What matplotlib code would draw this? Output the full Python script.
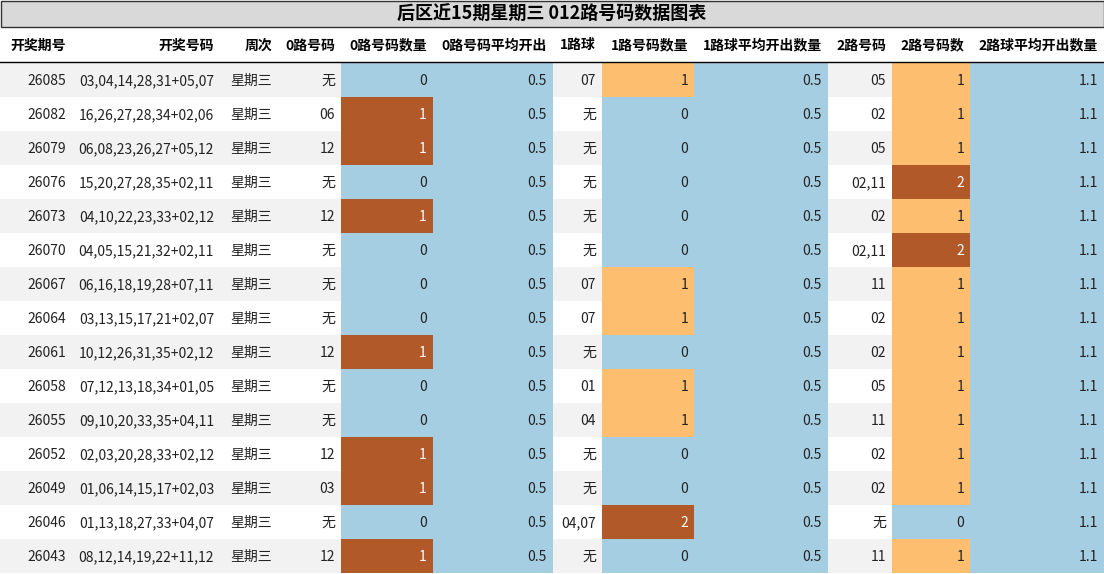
import matplotlib
matplotlib.use("Agg")
import matplotlib.pyplot as plt
from matplotlib.patches import Rectangle

plt.rcParams['font.family'] = ['Noto Sans CJK SC', 'DejaVu Sans']

title = "后区近15期星期三 012路号码数据图表"
headers = ["开奖期号", "开奖号码", "周次", "0路号码", "0路号码数量", "0路号码平均开出",
           "1路球", "1路号码数量", "1路球平均开出数量", "2路号码", "2路号码数", "2路球平均开出数量"]

periods = ["26085", "26082", "26079", "26076", "26073", "26070", "26067", "26064",
           "26061", "26058", "26055", "26052", "26049", "26046", "26043"]
numbers = ["03,04,14,28,31+05,07", "16,26,27,28,34+02,06", "06,08,23,26,27+05,12",
           "15,20,27,28,35+02,11", "04,10,22,23,33+02,12", "04,05,15,21,32+02,11",
           "06,16,18,19,28+07,11", "03,13,15,17,21+02,07", "10,12,26,31,35+02,12",
           "07,12,13,18,34+01,05", "09,10,20,33,35+04,11", "02,03,20,28,33+02,12",
           "01,06,14,15,17+02,03", "01,13,18,27,33+04,07", "08,12,14,19,22+11,12"]
weekday = ["星期三"] * 15
r0 = ["无", "06", "12", "无", "12", "无", "无", "无", "12", "无", "无", "12", "03", "无", "12"]
r0_cnt = [0, 1, 1, 0, 1, 0, 0, 0, 1, 0, 0, 1, 1, 0, 1]
r0_avg = [0.5] * 15
r1 = ["07", "无", "无", "无", "无", "无", "07", "07", "无", "01", "04", "无", "无", "04,07", "无"]
r1_cnt = [1, 0, 0, 0, 0, 0, 1, 1, 0, 1, 1, 0, 0, 2, 0]
r1_avg = [0.5] * 15
r2 = ["05", "02", "05", "02,11", "02", "02,11", "11", "02", "02", "05", "11", "02", "02", "无", "11"]
r2_cnt = [1, 1, 1, 2, 1, 2, 1, 1, 1, 1, 1, 1, 1, 0, 1]
r2_avg = [1.1] * 15

edges = [0, 72, 220, 278, 341, 433, 553, 602, 694, 828, 892, 970, 1104]
W, H = 1104, 574
top_title, head_bot, row_h = 27, 62, 34

blue, orange, brown = "#a6cee3", "#fdbf6f", "#b15928"


def count_color(v, vmax):
    if v == 0:
        return blue
    if v == vmax:
        return brown
    return orange


fig = plt.figure(figsize=(W / 100, H / 100), dpi=100)
ax = fig.add_axes([0, 0, 1, 1])
ax.set_xlim(0, W)
ax.set_ylim(H, 0)
ax.axis("off")

# title bar
ax.add_patch(Rectangle((0.5, 0.5), W - 1, top_title - 1, facecolor="#d9d9d9", edgecolor="#333333", lw=1))
ax.text(W / 2, top_title / 2 + 1, title, ha="center", va="center", fontsize=13, fontweight="bold")

# header
for i, h in enumerate(headers):
    ax.text(edges[i + 1] - 6, (top_title + head_bot) / 2 + 1, h, ha="right", va="center",
            fontsize=10, fontweight="bold")
ax.plot([0, W], [head_bot, head_bot], color="black", lw=1)

cols = [periods, numbers, weekday, r0, r0_cnt, r0_avg, r1, r1_cnt, r1_avg, r2, r2_cnt, r2_avg]
for r in range(len(periods)):
    y0 = head_bot + 1 + r * row_h
    bg = "#f2f2f2" if r % 2 == 0 else "white"
    ax.add_patch(Rectangle((0, y0), W, row_h, facecolor=bg, edgecolor="none"))
    for c, col in enumerate(cols):
        fc = None
        tc = "#222222"
        if c in (4, 7, 10):
            vmax = max(col)
            fc = count_color(col[r], vmax)
            if fc == brown:
                tc = "white"
        elif c in (5, 8, 11):
            fc = blue
        if fc:
            ax.add_patch(Rectangle((edges[c], y0), edges[c + 1] - edges[c], row_h,
                                   facecolor=fc, edgecolor="none"))
        ax.text(edges[c + 1] - 6, y0 + row_h / 2 + 1, str(col[r]), ha="right", va="center",
                fontsize=10, color=tc)

fig.savefig("out.png", dpi=100)
